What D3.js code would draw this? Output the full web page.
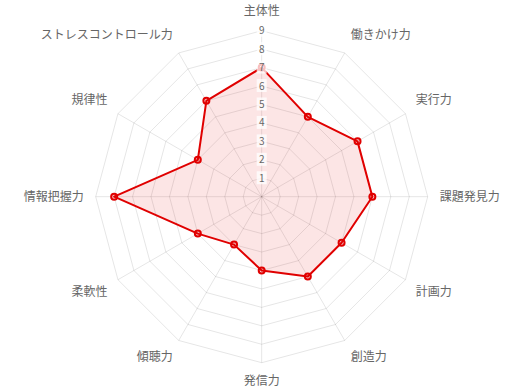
<!DOCTYPE html>
<html>
<head>
<meta charset="utf-8">
<title></title>
<style>
body { margin: 0; background: #fff; }
text { font-family: "Noto Sans CJK JP", "Noto Sans", sans-serif; }
</style>
</head>
<body>
<svg width="522" height="392"></svg>
<script src="https://d3js.org/d3.v7.min.js"></script>
<script>
var labels = ["主体性", "働きかけ力", "実行力", "課題発見力", "計画力", "創造力",
    "発信力", "傾聴力", "柔軟性", "情報把握力", "規律性", "ストレスコントロール力"];
var values = [7, 5, 6, 6, 5, 5, 4, 3, 4, 8, 4, 6];
var ticks = [1, 2, 3, 4, 5, 6, 7, 8, 9];

var svg = d3.select("svg"),
    cx = 261.7, cy = 196.7, R = 166;

var r = d3.scaleLinear().domain([0, 9]).range([0, R]);
var ang = d3.scalePoint().domain(d3.range(labels.length)).range([0, 2 * Math.PI * (labels.length - 1) / labels.length]);

function pt(i, v) {
    var a = ang(i);
    return [cx + r(v) * Math.sin(a), cy - r(v) * Math.cos(a)];
}

var g = svg.append("g");

// grid polygons
g.selectAll(".ring").data(ticks).enter().append("polygon")
    .attr("points", function(t) {
        return labels.map(function(d, i) { return pt(i, t).join(","); }).join(" ");
    })
    .attr("fill", "none").attr("stroke", "rgba(0,0,0,0.1)").attr("stroke-width", 1);

// angle lines
g.selectAll(".spoke").data(labels).enter().append("line")
    .attr("x1", cx).attr("y1", cy)
    .attr("x2", function(d, i) { return pt(i, 9)[0]; })
    .attr("y2", function(d, i) { return pt(i, 9)[1]; })
    .attr("stroke", "rgba(0,0,0,0.1)");

// data area
var line = d3.line().curve(d3.curveLinearClosed);
svg.append("path")
    .datum(values.map(function(v, i) { return pt(i, v); }))
    .attr("d", line)
    .attr("fill", "rgba(228,0,0,0.1)")
    .attr("stroke", "#e00000").attr("stroke-width", 2).attr("stroke-linejoin", "round");

svg.selectAll(".pt").data(values).enter().append("circle")
    .attr("cx", function(v, i) { return pt(i, v)[0]; })
    .attr("cy", function(v, i) { return pt(i, v)[1]; })
    .attr("r", 3)
    .attr("fill", "rgba(228,0,0,0.2)").attr("stroke", "#e00000").attr("stroke-width", 2);

// tick labels
var tk = svg.selectAll(".tick").data(ticks).enter().append("g")
    .attr("transform", function(t) { return "translate(" + cx + "," + (cy - r(t)) + ")"; });
tk.append("rect").attr("x", -5).attr("y", -7).attr("width", 10).attr("height", 13)
    .attr("fill", "rgba(255,255,255,0.75)");
tk.append("text").attr("text-anchor", "middle").attr("dy", "0.35em")
    .attr("font-size", 10).attr("fill", "#666")
    .text(function(t) { return t; });

// point labels
svg.selectAll(".lab").data(labels).enter().append("text")
    .attr("x", function(d, i) { return pt(i, 9)[0] + 12 * Math.sin(ang(i)); })
    .attr("y", function(d, i) {
        var c = Math.cos(ang(i)), y = pt(i, 9)[1] - 12 * c;
        if (c > 0.01) y -= 8; else if (c < -0.01) y += 6;
        return y;
    })
    .attr("dy", "0.35em")
    .attr("text-anchor", function(d, i) {
        var s = Math.sin(ang(i));
        return s > 0.01 ? "start" : (s < -0.01 ? "end" : "middle");
    })
    .attr("font-size", 12).attr("fill", "#666")
    .text(function(d) { return d; });
</script>
</body>
</html>
